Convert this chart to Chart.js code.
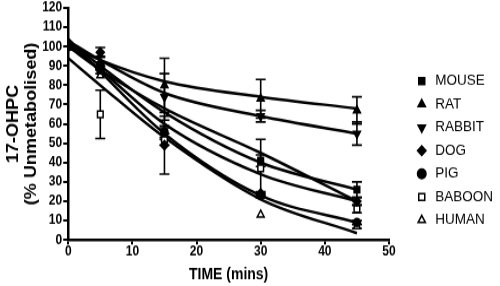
<!DOCTYPE html>
<html>
<head>
<meta charset="utf-8">
<script src="https://cdn.jsdelivr.net/npm/chart.js@4/dist/chart.umd.min.js"></script>
<style>
  html, body { margin: 0; padding: 0; background: #fff; }
</style>
</head>
<body>
<!-- drawn at 500x253 and shown stretched to the 500x286 frame, like the reference -->
<canvas id="chart" width="500" height="253" style="display:block;width:500px;height:286px"></canvas>
<script>
// sampling times (mins)
var times = [0, 5, 15, 30, 45];

// mean % unmetabolised per species
var mouse  = [100, 90, 55, 41, 26];
var rat    = [100, 92, 80, 73, 67];
var rabbit = [101, 90, 74, 64, 55];
var dog    = [100, 97, 49, 24, 20];
var pig    = [100, 88, 56, 23, 9];
var baboon = [100, 65, 52, 37, 16];
var human  = [100, 85, 53, 13, 7];

// error bars (+/-)
var mouseErr  = [0, 2, 3, 3, 4];
var ratErr    = [0, 3, 14, 10, 7];
var rabbitErr = [0, 2, 12, 3, 6];
var dogErr    = [0, 2.5, 15, 1, 2];
var pigErr    = [0, 2, 3, 1, 1];
var baboonErr = [0, 12.5, 3, 15, 2];
var humanErr  = [0, 0, 0, 0, 1];

// fitted decay curves
var mouseFit  = [103, 90, 66, 40, 26];
var ratFit    = [101, 93, 82, 74, 68];
var rabbitFit = [103, 93, 76, 64, 55];
var dogFit    = [101, 88, 60, 34, 20];
var pigFit    = [104, 87, 55, 23, 9];
var baboonFit = [100, 88, 68, 45, 20];
var humanFit  = [94, 80, 53, 21, 3.5];

var xTicks = [0, 10, 20, 30, 40, 50];
var yTicks = [0, 10, 20, 30, 40, 50, 60, 70, 80, 90, 100, 110, 120];

function pts(vals) {
    return vals.map(function (v, i) { return { x: times[i], y: v }; });
}

function species(label, vals, errs, style, rot, open) {
    return {
        label: label,
        data: pts(vals),
        errors: errs,
        showLine: false,
        pointStyle: style,
        rotation: rot || 0,
        pointRadius: style === 'circle' ? 3.5 : 4,
        pointBorderWidth: 1.5,
        borderWidth: 1.5,
        borderColor: '#000',
        backgroundColor: open ? '#fff' : '#000',
        pointBackgroundColor: open ? '#fff' : '#000'
    };
}

function curve(vals) {
    return {
        label: 'fit',
        data: pts(vals),
        showLine: true,
        pointRadius: 0,
        borderColor: '#000',
        borderWidth: 2.5,
        cubicInterpolationMode: 'monotone',
        fill: false
    };
}

var errorBars = {
    id: 'errorBars',
    beforeDatasetsDraw: function (chart) {
        var ctx = chart.ctx, sx = chart.scales.x, sy = chart.scales.y;
        ctx.save();
        ctx.strokeStyle = '#000';
        ctx.lineWidth = 1.6;
        chart.data.datasets.forEach(function (ds) {
            if (!ds.errors) return;
            ds.data.forEach(function (p, i) {
                var e = ds.errors[i];
                if (!e) return;
                var px = sx.getPixelForValue(p.x);
                var top = sy.getPixelForValue(p.y + e);
                var bot = sy.getPixelForValue(p.y - e);
                ctx.beginPath();
                ctx.moveTo(px, top); ctx.lineTo(px, bot);
                ctx.moveTo(px - 5, top); ctx.lineTo(px + 5, top);
                ctx.moveTo(px - 5, bot); ctx.lineTo(px + 5, bot);
                ctx.stroke();
            });
        });
        ctx.restore();
    }
};

// legend column: fixed width, then nudged right/down of the plot
var legendBox = {
    id: 'legendBox',
    beforeInit: function (chart) {
        var fit = chart.legend.fit;
        chart.legend.fit = function () {
            fit.bind(chart.legend)();
            this.width = 111;
        };
    },
    afterLayout: function (chart) {
        var lg = chart.legend;
        lg.left = 408;
        lg.top = 58;
    }
};

var font = "'Liberation Sans', Arial, sans-serif";

new Chart(document.getElementById('chart'), {
    type: 'scatter',
    data: {
        datasets: [
            species('MOUSE', mouse, mouseErr, 'rect'),
            species('RAT', rat, ratErr, 'triangle'),
            species('RABBIT', rabbit, rabbitErr, 'triangle', 180),
            species('DOG', dog, dogErr, 'rectRot'),
            species('PIG', pig, pigErr, 'circle'),
            species('BABOON', baboon, baboonErr, 'rect', 0, true),
            species('HUMAN', human, humanErr, 'triangle', 0, true),
            curve(mouseFit), curve(ratFit), curve(rabbitFit), curve(dogFit),
            curve(pigFit), curve(baboonFit), curve(humanFit)
        ]
    },
    options: {
        responsive: false,
        animation: false,
        layout: { padding: { top: 4, right: 0, left: 5, bottom: 1.5 } },
        plugins: {
            tooltip: { enabled: false },
            legend: {
                position: 'right',
                align: 'start',
                labels: {
                    usePointStyle: true,
                    boxWidth: 14,
                    boxHeight: 6,
                    padding: 7,
                    color: '#000',
                    font: { family: font, size: 13.5 },
                    filter: function (item) { return item.datasetIndex < 7; }
                }
            }
        },
        scales: {
            x: {
                type: 'linear',
                min: 0, max: 50,
                afterBuildTicks: function (s) { s.ticks = xTicks.map(function (v) { return { value: v }; }); },
                grid: { drawOnChartArea: false, color: '#000', lineWidth: 2, tickLength: 4 },
                border: { color: '#000', width: 2.5 },
                ticks: { color: '#000', padding: 0, autoSkip: false,
                         font: { family: font, size: 12, weight: 'bold', lineHeight: 1 } },
                title: { display: true, text: 'TIME (mins)', color: '#000', padding: { top: 6.5, bottom: 0 },
                         font: { family: font, size: 14, weight: 'bold' } }
            },
            y: {
                min: 0, max: 120,
                afterBuildTicks: function (s) { s.ticks = yTicks.map(function (v) { return { value: v }; }); },
                grid: { drawOnChartArea: false, color: '#000', lineWidth: 2, tickLength: 5 },
                border: { color: '#000', width: 2.5 },
                ticks: { color: '#000', padding: 1, autoSkip: false,
                         font: { family: font, size: 12, weight: 'bold', lineHeight: 1 } },
                title: { display: true, text: ['17-OHPC', '(% Unmetabolised)'], color: '#000',
                         padding: { top: 0, bottom: 1 },
                         font: { family: font, size: 16, weight: 'bold', lineHeight: 1.1 } }
            }
        }
    },
    plugins: [errorBars, legendBox]
});
</script>
</body>
</html>
